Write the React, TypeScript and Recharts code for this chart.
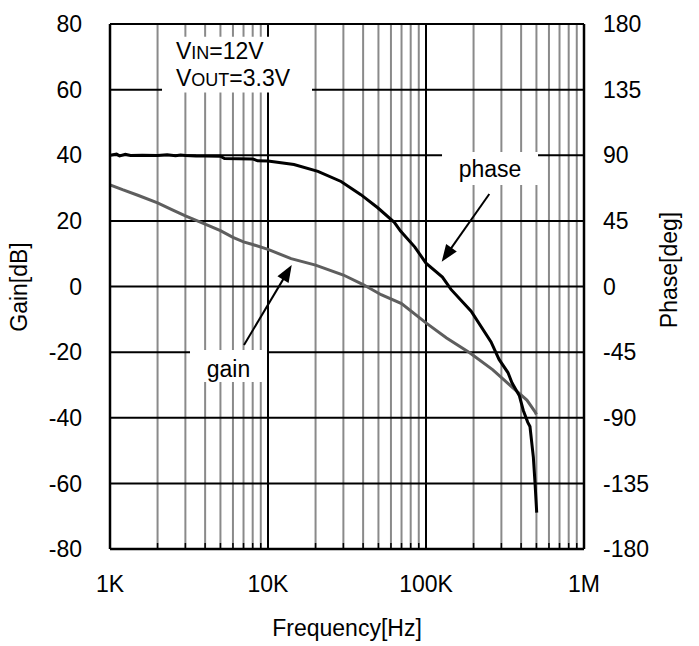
import React from 'react';
import { ComposedChart, Line, XAxis, YAxis, ReferenceLine, ReferenceArea, CartesianGrid } from 'recharts';

// ---- data ----
const gainFreq = [1000, 1200, 1500, 2000, 2500, 3000, 4000, 5000, 6000, 7000, 8000, 10000, 14000, 20000, 30000, 40000, 52000, 70000, 100000, 135000, 190000, 265000, 355000, 435000, 490000, 500000];
const gainDb = [31, 29.5, 27.8, 25.5, 23.3, 21.5, 19, 17, 15, 13.6, 12.8, 11.3, 8.5, 6.5, 3.5, 0.6, -2.5, -5.2, -11.1, -15.7, -20.3, -25.4, -30.9, -34.6, -38.2, -39];

const phaseFreq = [1000, 1100, 1150, 1250, 1350, 1600, 2000, 2300, 2600, 2800, 3000, 3500, 4000, 5000, 5300, 8000, 8600, 10000, 14600, 20700, 29000, 38700, 49500, 63000, 69000, 85000, 100000, 127000, 144000, 193000, 258000, 290000, 330000, 350000, 390000, 413000, 440000, 455000, 478000, 490000, 502000];
const phaseDeg = [90, 90.8, 89.6, 90.6, 89.8, 90, 89.8, 90.4, 89.6, 90.2, 89.8, 89.5, 89.4, 89.3, 87.8, 87.5, 86.2, 86, 83.7, 79, 72, 63, 54, 44, 38, 27, 16, 6.5, -2, -17, -38, -50, -59, -66, -75, -85, -93, -96, -117, -135, -155];

const gainTicks = [-80, -60, -40, -20, 0, 20, 40, 60, 80];
const phaseTicks = [-180, -135, -90, -45, 0, 45, 90, 135, 180];
const decadeTicks = [1000, 10000, 100000, 1000000];
const decadeLabels = ['1K', '10K', '100K', '1M'];
const minorTicks = [2000, 3000, 4000, 5000, 6000, 7000, 8000, 9000, 20000, 30000, 40000, 50000, 60000, 70000, 80000, 90000, 200000, 300000, 400000, 500000, 600000, 700000, 800000, 900000];
const allTicks = [...decadeTicks, ...minorTicks].sort((a, b) => a - b);
const xDomain = [1000, 1000000];

// annotation boxes / arrows (data units: Hz, dB)
const vinBox = { x1: 2134, x2: 18990, y1: 59.1, y2: 76.1 };
const phaseBox = { x1: 126300, x2: 511700, y1: 30.9, y2: 41.0 };
const gainBox = { x1: 3209, x2: 9855, y1: -29.1, y2: -19.35 };
const phaseArrow = [{ x: 251600, y: 28.2 }, { x: 125700, y: 7.56 }];
const gainArrow = [{ x: 7050, y: -17.8 }, { x: 14130, y: 6.55 }];

const gainData = gainFreq.map((f, i) => ({ f, gain: gainDb[i] }));
const phaseData = phaseFreq.map((f, i) => ({ f, phase: phaseDeg[i] }));

const FONT = '"Liberation Sans", Arial, sans-serif';
const FS = 23;

const ArrowShape = (props: any) => {
  const { x1, y1, x2, y2 } = props;
  const dx = x2 - x1;
  const dy = y2 - y1;
  const len = Math.hypot(dx, dy) || 1;
  const ux = dx / len;
  const uy = dy / len;
  const head = 17;
  const half = 6.5;
  const bx = x2 - ux * head;
  const by = y2 - uy * head;
  const px = -uy;
  const py = ux;
  return (
    <g>
      <line x1={x1} y1={y1} x2={bx + ux * 2} y2={by + uy * 2} stroke="#000" strokeWidth={2} />
      <polygon points={`${x2},${y2} ${bx + px * half},${by + py * half} ${bx - px * half},${by - py * half}`} fill="#000" />
    </g>
  );
};

const VinText = (props: any) => {
  const { x, y } = props.viewBox;
  return (
    <g fontFamily={FONT} fill="#000">
      <text x={x + 14} y={y + 22} fontSize={FS}>
        V<tspan fontSize={18}>IN</tspan>=12V
      </text>
      <text x={x + 14} y={y + 49.5} fontSize={FS}>
        V<tspan fontSize={18}>OUT</tspan>=3.3V
      </text>
    </g>
  );
};

const makeCenterText = (label: string, dyBase: number) => (props: any) => {
  const { x, y, width } = props.viewBox;
  return (
    <text x={x + width / 2} y={y + dyBase} fontSize={FS} fontFamily={FONT} textAnchor="middle" fill="#000">
      {label}
    </text>
  );
};

const xFmt = (v: number) => {
  const i = decadeTicks.indexOf(v);
  return i >= 0 ? decadeLabels[i] : '';
};

// positions of the decade grid lines, through the x axis' scale when available
const decadeGen = (args: any) => {
  const sc = args && args.xAxis ? args.xAxis.scale : undefined;
  try {
    if (typeof sc === 'function') {
      const r = decadeTicks.map((t) => sc(t));
      if (r.every((v) => Number.isFinite(v))) return r;
    }
    if (sc && typeof sc.map === 'function') {
      const r = decadeTicks.map((t) => sc.map(t));
      if (r.every((v: any) => Number.isFinite(v))) return r;
    }
  } catch (e) {
    // fall through
  }
  const off = (args && args.offset) || { left: 110, width: 474 };
  const l0 = Math.log10(xDomain[0]);
  const l1 = Math.log10(xDomain[1]);
  return decadeTicks.map((t) => off.left + ((Math.log10(t) - l0) / (l1 - l0)) * off.width);
};

const GainTitle = () => {
  const cx = 27;
  const cy = 287;
  return (
    <text x={cx} y={cy} transform={`rotate(-90, ${cx}, ${cy})`} textAnchor="middle" fontSize={FS} fontFamily={FONT} fill="#000">
      Gain[dB]
    </text>
  );
};

const PhaseTitle = () => {
  const cx = 677;
  const cy = 270;
  return (
    <text x={cx} y={cy} transform={`rotate(-90, ${cx}, ${cy})`} textAnchor="middle" fontSize={FS} fontFamily={FONT} fill="#000">
      Phase[deg]
    </text>
  );
};

const FreqTitle = () => {
  return (
    <text x={347} y={636} textAnchor="middle" fontSize={FS} fontFamily={FONT} fill="#000">
      Frequency[Hz]
    </text>
  );
};

export default function App() {
  return (
    <div style={{ position: 'absolute', left: 0, top: 0, width: 699, height: 646, background: '#fff' }}>
      <ComposedChart width={699} height={646} margin={{ top: 24, right: 0, bottom: 0, left: 0 }}>
        <CartesianGrid xAxisId="f" yAxisId="gain" horizontal={false} vertical stroke="#8a8a8a" strokeWidth={2} />
        <CartesianGrid
          xAxisId="f"
          yAxisId="gain"
          horizontal
          vertical
          verticalCoordinatesGenerator={decadeGen}
          stroke="#000"
          strokeWidth={2}
        />
        <XAxis
          xAxisId="f"
          dataKey="f"
          type="number"
          scale="log"
          domain={xDomain}
          allowDataOverflow
          ticks={allTicks}
          interval={0}
          tickFormatter={xFmt}
          height={97}
          tickSize={-6}
          tickMargin={33}
          tickLine={{ stroke: '#000', strokeWidth: 1.5 }}
          axisLine={{ stroke: '#000', strokeWidth: 2.5 }}
          tick={{ fill: '#000', fontSize: FS, fontFamily: FONT }}
          label={<FreqTitle />}
        />
        <YAxis
          yAxisId="gain"
          type="number"
          domain={[-80, 80]}
          ticks={gainTicks}
          interval={0}
          width={110}
          tickSize={0}
          tickMargin={28}
          tickLine={false}
          axisLine={{ stroke: '#000', strokeWidth: 2.5 }}
          tick={{ fill: '#000', fontSize: FS, fontFamily: FONT }}
          label={<GainTitle />}
        />
        <YAxis
          yAxisId="phase"
          orientation="right"
          type="number"
          domain={[-180, 180]}
          ticks={phaseTicks}
          interval={0}
          width={115}
          tickSize={0}
          tickMargin={19}
          tickLine={false}
          axisLine={{ stroke: '#000', strokeWidth: 2.5 }}
          tick={{ fill: '#000', fontSize: FS, fontFamily: FONT, textAnchor: 'start' }}
          label={<PhaseTitle />}
        />
        <ReferenceArea xAxisId="f" yAxisId="gain" {...vinBox} fill="#fff" fillOpacity={1} stroke="none" label={<VinText />} />
        <ReferenceArea xAxisId="f" yAxisId="gain" {...phaseBox} fill="#fff" fillOpacity={1} stroke="none" label={makeCenterText('phase', 24.7)} />
        <ReferenceArea xAxisId="f" yAxisId="gain" {...gainBox} fill="#fff" fillOpacity={1} stroke="none" label={makeCenterText('gain', 26.7)} />
        <Line
          xAxisId="f"
          yAxisId="gain"
          data={gainData}
          dataKey="gain"
          type="linear"
          stroke="#5e5e5e"
          strokeWidth={3}
          dot={false}
          activeDot={false}
          isAnimationActive={false}
        />
        <Line
          xAxisId="f"
          yAxisId="phase"
          data={phaseData}
          dataKey="phase"
          type="linear"
          stroke="#000"
          strokeWidth={3}
          dot={false}
          activeDot={false}
          isAnimationActive={false}
        />
        <ReferenceLine xAxisId="f" yAxisId="gain" segment={phaseArrow} shape={ArrowShape} />
        <ReferenceLine xAxisId="f" yAxisId="gain" segment={gainArrow} shape={ArrowShape} />
      </ComposedChart>
    </div>
  );
}
